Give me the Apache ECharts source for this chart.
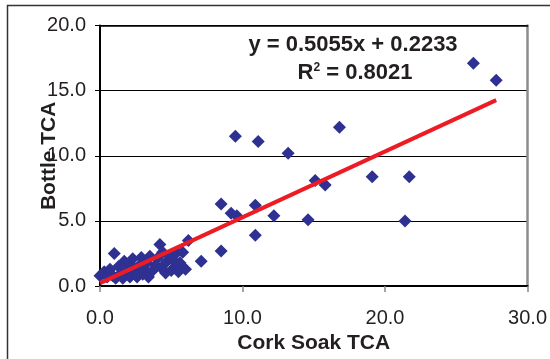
<!DOCTYPE html>
<html>
<head>
<meta charset="utf-8">
<script src="https://cdn.jsdelivr.net/npm/echarts@6/dist/echarts.min.js"></script>
<style>
  html, body { margin: 0; padding: 0; background: #fff; }
  #chart { width: 550px; height: 359px; }
</style>
</head>
<body>
<div id="chart"></div>
<script>
// Cork soak TCA vs bottle TCA, one entry per sample
const corkSoak = [
  0.0, 0.3, 0.5, 0.7, 0.9, 1.0, 1.1, 1.3, 1.5, 1.6, 1.7, 1.9, 2.1, 2.2, 2.3,
  2.5, 2.6, 2.7, 2.9, 3.0, 3.1, 3.3, 3.4, 3.5, 3.7, 3.9, 4.0, 4.2, 4.3, 4.4,
  4.6, 4.7, 4.9, 5.0, 5.1, 5.3, 5.4, 5.5, 5.6, 5.8, 6.0, 6.2,
  7.1, 8.5, 8.5, 9.2, 9.6, 10.9, 10.9, 12.2, 14.6, 15.1, 15.8, 19.1, 21.7, 21.4,
  9.5, 11.1, 13.2, 16.8, 26.2, 27.8
];
const bottle = [
  0.8, 1.1, 0.7, 1.3, 0.8, 2.5, 0.6, 1.5, 1.0, 0.6, 1.9, 1.2, 0.7, 1.6, 2.1,
  1.1, 0.7, 1.5, 2.2, 0.9, 1.3, 1.8, 0.7, 2.3, 1.2, 1.6, 2.1, 3.2, 1.4, 2.6,
  1.0, 1.9, 2.3, 1.2, 2.0, 1.5, 2.6, 1.1, 1.8, 2.6, 1.3, 3.5,
  1.9, 2.7, 6.3, 5.6, 5.4, 6.2, 3.9, 5.4, 5.1, 8.1, 7.75, 8.4, 8.4, 5.0,
  11.5, 11.1, 10.2, 12.2, 17.1, 15.8
];

// Linear fit stated in the chart
const slope = 0.5055;
const intercept = 0.2233;
const rSquared = '0.8021';

// Axis ticks
const xTicks = [0, 10, 20, 30];
const yTicks = [0, 5, 10, 15, 20];

const points = corkSoak.map((x, i) => [x, bottle[i]]);
const xMin = Math.min(...corkSoak);
const xMax = Math.max(...corkSoak);
const fitLine = [xMin, xMax].map(x => [x, slope * x + intercept]);

const textColor = '#231f20';
const fontFamily = 'Liberation Sans, Arial, sans-serif';

const chart = echarts.init(document.getElementById('chart'), null, { renderer: 'canvas' });

const xRange = { type: 'value', min: xTicks[0], max: xTicks[xTicks.length - 1], interval: xTicks[1] - xTicks[0] };
const yRange = { type: 'value', min: yTicks[0], max: yTicks[yTicks.length - 1], interval: yTicks[1] - yTicks[0] };

chart.setOption({
  animation: false,
  backgroundColor: '#ffffff',
  grid: { left: 100, right: 22, top: 25.5, bottom: 71.5, containLabel: false },
  xAxis: [
    Object.assign({}, xRange, {
      position: 'bottom',
      name: 'Cork Soak TCA',
      nameLocation: 'middle',
      nameGap: 45,
      nameTextStyle: { color: textColor, fontSize: 21, fontWeight: 'bold', fontFamily },
      axisLine: { show: true, onZero: false, lineStyle: { color: '#000', width: 2 } },
      axisTick: { show: true, length: 6, lineStyle: { color: '#888', width: 1.5 } },
      axisLabel: {
        color: textColor, fontSize: 20, fontFamily, margin: 22,
        formatter: v => v.toFixed(1)
      },
      splitLine: { show: false }
    }),
    Object.assign({}, xRange, {
      // top edge of the plot area
      position: 'top',
      axisLine: { show: true, onZero: false, lineStyle: { color: '#000', width: 1.5 } },
      axisTick: { show: false },
      axisLabel: { show: false },
      splitLine: { show: false }
    })
  ],
  yAxis: [
    Object.assign({}, yRange, {
      position: 'left',
      name: 'Bottle TCA',
      nameLocation: 'middle',
      nameGap: 40,
      nameRotate: 90,
      nameMoveOverlap: false,
      nameTextStyle: { color: textColor, fontSize: 21, fontWeight: 'bold', fontFamily },
      axisLine: { show: true, onZero: false, lineStyle: { color: '#000', width: 2 } },
      axisTick: { show: true, length: 5, lineStyle: { color: '#000', width: 1 } },
      axisLabel: {
        color: textColor, fontSize: 20, fontFamily, margin: 14,
        formatter: v => v.toFixed(1)
      },
      splitLine: { show: true, lineStyle: { color: '#000', width: 1 } }
    }),
    Object.assign({}, yRange, {
      // right edge of the plot area
      position: 'right',
      axisLine: { show: true, onZero: false, lineStyle: { color: '#8c8c8c', width: 2.5 } },
      axisTick: { show: false },
      axisLabel: { show: false },
      splitLine: { show: false }
    })
  ],
  graphic: [
    {
      // outer chart frame
      type: 'rect',
      shape: { x: 7.5, y: 5.5, width: 700, height: 500 },
      style: { fill: 'none', stroke: '#333', lineWidth: 1.5 },
      silent: true
    },
    {
      type: 'text',
      x: 353, y: 45,
      style: {
        text: 'y = ' + slope.toFixed(4) + 'x + ' + intercept.toFixed(4),
        fill: textColor, fontSize: 22, fontWeight: 'bold', fontFamily,
        align: 'center', verticalAlign: 'middle'
      }
    },
    {
      type: 'text',
      x: 355, y: 73,
      style: {
        text: 'R{sup|2} = ' + rSquared,
        fill: textColor, fontSize: 22, fontWeight: 'bold', fontFamily,
        align: 'center', verticalAlign: 'middle',
        rich: {
          sup: { fontSize: 12, fontWeight: 'bold', fontFamily, fill: textColor, verticalAlign: 'top', padding: [0, 0, 10, 0] }
        }
      }
    }
  ],
  series: [
    {
      type: 'scatter',
      data: points,
      symbol: 'diamond',
      symbolSize: 13,
      itemStyle: { color: '#2e3192', opacity: 1 },
      z: 2
    },
    {
      type: 'line',
      data: fitLine,
      showSymbol: false,
      symbol: 'none',
      lineStyle: { color: '#ed1c24', width: 4 },
      z: 3
    }
  ]
});
</script>
</body>
</html>
